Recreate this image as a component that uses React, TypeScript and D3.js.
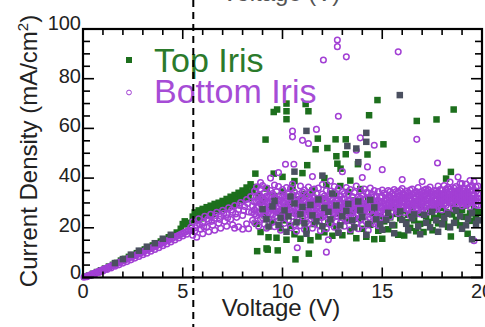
import React from "react";
import * as d3 from "d3";

// Top Iris: [voltage, current density]
const topRise: [number, number][] = [
  [0.1, 0.3], [0.3, 0.8], [0.5, 1.5], [0.7, 2.2], [0.9, 2.9], [1.1, 3.6], [1.3, 4.4], [1.5, 5.1],
  [1.7, 5.9], [1.9, 6.8], [2.1, 7.5], [2.3, 8.3], [2.5, 9.0], [2.7, 9.8], [2.9, 10.6], [3.1, 11.3],
  [3.3, 12.1], [3.5, 12.9], [3.7, 13.6], [3.9, 14.5], [4.1, 15.3], [4.3, 16.2], [4.5, 17.0],
  [4.7, 18.1], [4.9, 19.6], [5.0, 21.5], [5.1, 22.6], [5.2, 21.4], [5.3, 22.0],
];
const topKnee: [number, number][] = [
  [5.5, 24.5], [5.6, 26.2], [5.7, 25.1], [5.8, 27.0], [5.9, 25.8], [6.0, 27.6], [6.1, 26.4],
  [6.2, 28.3], [6.3, 27.1], [6.4, 28.9], [6.5, 27.7], [6.6, 29.6], [6.7, 28.2], [6.8, 30.1],
  [6.9, 29.0], [7.0, 30.8], [7.1, 29.5], [7.2, 31.6], [7.3, 30.4], [7.4, 32.5], [7.5, 31.0],
  [7.6, 33.2], [7.7, 31.8], [7.8, 34.1], [7.9, 32.5], [8.0, 35.0], [8.1, 33.4], [8.2, 36.2],
  [8.3, 34.0], [8.4, 37.5], [8.5, 35.2],
  [5.6, 23.0], [5.9, 23.8], [6.2, 25.0], [6.5, 25.6], [6.8, 26.8], [7.1, 27.6], [7.4, 28.8],
  [7.7, 29.4], [8.0, 31.2], [8.3, 32.0],
];
const topBand: [number, number][] = [
  [8.6, 36.4], [8.7, 21.6], [8.8, 33.0], [8.9, 18.3], [9.0, 30.5], [9.1, 25.0], [9.2, 35.8],
  [9.3, 16.2], [9.4, 28.0], [9.5, 22.4], [9.6, 32.8], [9.7, 16.0], [9.8, 26.5], [9.9, 19.8],
  [10.0, 34.6], [10.1, 23.0], [10.2, 15.2], [10.3, 29.4], [10.4, 20.8], [10.5, 36.2], [10.6, 17.4],
  [10.7, 25.6], [10.8, 31.5], [10.9, 15.6], [11.0, 22.7], [11.1, 33.6], [11.2, 19.0], [11.3, 27.2],
  [11.4, 15.0], [11.5, 35.0], [11.6, 21.5], [11.7, 29.8], [11.8, 16.5], [11.9, 24.4], [12.0, 31.8],
  [12.1, 18.2], [12.2, 37.2], [12.3, 22.0], [12.4, 27.8], [12.5, 16.8], [12.6, 33.2], [12.7, 20.4],
  [12.8, 25.8], [12.9, 36.8], [13.0, 17.0], [13.1, 29.0], [13.2, 22.8], [13.3, 34.4], [13.4, 18.6],
  [13.5, 26.6], [13.6, 31.0], [13.7, 15.8], [13.8, 23.6], [13.9, 35.6], [14.0, 19.6], [14.1, 28.6],
  [14.2, 16.4], [14.3, 32.0], [14.4, 21.2], [14.5, 26.0], [14.6, 15.4], [14.7, 30.2], [14.8, 18.8],
  [14.9, 24.8], [15.0, 15.6], [15.1, 22.6], [15.2, 27.4], [15.3, 19.4], [15.4, 24.2], [15.5, 28.2],
  [15.6, 21.0], [15.7, 25.6], [15.8, 17.2], [15.9, 23.8], [16.0, 27.0], [16.1, 16.9], [16.2, 22.2],
  [16.3, 25.2], [16.4, 20.0], [16.5, 27.8], [16.6, 23.0], [16.7, 18.6], [16.8, 25.8], [16.9, 21.6],
  [17.0, 28.4], [17.07, 18.3], [17.2, 24.6], [17.3, 22.4], [17.4, 26.6], [17.52, 19.0], [17.6, 24.0],
  [17.7, 27.4], [17.8, 21.8], [17.9, 25.0], [18.0, 28.0], [18.1, 22.6], [18.2, 26.2], [18.3, 20.4],
  [18.44, 16.5], [18.5, 25.4], [18.6, 28.6], [18.7, 23.2], [18.8, 26.8], [18.9, 21.0], [19.0, 27.2],
  [19.1, 24.4], [19.2, 29.0], [19.28, 17.6], [19.4, 25.8], [19.5, 22.8], [19.6, 27.6], [19.7, 24.6],
  [19.8, 26.4],
];
const topOutliers: [number, number][] = [
  [8.64, 41.8], [9.15, 55.5], [9.56, 41.8], [9.56, 66.6], [9.73, 67.6], [10.2, 70.0], [10.2, 66.9],
  [10.2, 63.7], [11.16, 69.8], [11.3, 66.9], [11.24, 45.2], [11.77, 55.9], [11.66, 51.6],
  [12.25, 52.1], [12.66, 55.6], [12.7, 48.8], [12.75, 45.8], [12.91, 43.8], [13.17, 55.6],
  [13.17, 49.6], [13.78, 45.6], [14.26, 49.5], [14.34, 65.3], [14.76, 71.4], [15.06, 53.6],
  [16.73, 63.0], [17.72, 63.6], [18.58, 67.6], [18.44, 42.5], [18.2, 39.8], [10.0, 40.5],
  [10.6, 38.8], [11.0, 42.0], [12.1, 40.0], [13.4, 39.0],
  [8.73, 10.6], [9.26, 11.2], [9.76, 10.9], [10.65, 7.3], [11.32, 9.6], [9.2, 11.7],
];

// points where both measurements sit on top of each other (drawn grey)
const overlapPts: [number, number][] = [
  [1.6, 5.8], [2.0, 7.4], [2.4, 9.2], [2.8, 10.8], [3.2, 12.4], [3.6, 13.8], [4.0, 15.6], [4.4, 17.2],
  [9.0, 27.5], [9.3, 20.5], [9.6, 30.8], [9.9, 24.0], [10.2, 18.4], [10.4, 32.6], [10.7, 22.2],
  [11.0, 28.4], [11.2, 17.6], [11.2, 59.0], [11.5, 25.0], [11.8, 31.4], [12.0, 20.6], [12.3, 26.4],
  [12.5, 33.8], [12.8, 18.0], [13.0, 24.6], [13.25, 52.9], [13.3, 29.6], [13.6, 20.2], [13.7, 51.9],
  [13.9, 27.0], [14.2, 58.2], [14.2, 54.6], [14.2, 17.2], [14.4, 31.2], [14.7, 23.4], [15.0, 19.2],
  [15.3, 26.0], [15.6, 17.8], [15.88, 73.4], [16.0, 23.2], [16.3, 19.0], [16.6, 25.4], [16.9, 17.4],
  [17.2, 22.0], [17.5, 26.4], [17.8, 18.4], [18.1, 24.0], [18.4, 20.2], [18.7, 27.0], [19.0, 19.6],
  [19.3, 23.6], [19.5, 15.4], [19.7, 21.6], [12.0, 41.0], [13.8, 46.4], [10.6, 42.6],
  [9.2, 23.4], [9.5, 28.6], [9.8, 21.2], [10.1, 27.0], [10.3, 24.6], [10.6, 29.8], [10.9, 25.4],
  [11.1, 21.8], [11.4, 29.2], [11.7, 22.6], [12.1, 28.0], [12.4, 23.4], [12.7, 29.0], [12.9, 21.0],
  [13.2, 26.8], [13.5, 23.0], [13.8, 30.6], [14.0, 24.4], [14.3, 21.6], [14.6, 28.2], [14.9, 21.4],
  [15.2, 23.2], [15.5, 21.2], [15.9, 26.6], [16.2, 21.6], [16.5, 23.8], [16.8, 20.6], [17.1, 25.2],
  [17.4, 20.2], [17.7, 23.0], [18.0, 21.4], [18.3, 25.6], [18.6, 22.0], [18.9, 24.6], [19.2, 21.0],
  [19.5, 26.0], [19.8, 23.0],
];

// Bottom Iris
const bottomRise: [number, number][] = [
  [0.05, 0.1], [0.15, 0.4], [0.25, 0.7], [0.35, 1.0], [0.45, 1.4], [0.55, 1.7], [0.65, 2.0],
  [0.75, 2.4], [0.85, 2.7], [0.95, 3.0], [1.05, 3.4], [1.15, 3.7], [1.25, 4.1], [1.35, 4.4],
  [1.45, 4.8], [1.55, 5.1], [1.65, 5.5], [1.75, 5.8], [1.85, 6.2], [1.95, 6.5], [2.05, 6.9],
  [2.15, 7.2], [2.25, 7.6], [2.35, 8.0], [2.45, 8.3], [2.55, 8.7], [2.65, 9.0], [2.75, 9.4],
  [2.85, 9.8], [2.95, 10.1], [3.05, 10.5], [3.15, 10.9], [3.25, 11.2], [3.35, 11.6], [3.45, 12.0],
  [3.55, 12.3], [3.65, 12.7], [3.75, 13.1], [3.85, 13.4], [3.95, 13.8], [4.05, 14.2], [4.15, 14.6],
  [4.25, 14.9], [4.35, 15.3], [4.45, 15.7], [4.55, 16.1], [4.65, 16.5], [4.75, 16.8], [4.85, 17.2],
  [4.95, 17.6], [5.05, 18.0], [5.15, 18.4], [5.25, 18.8], [5.35, 19.1],
  [0.2, 0.3], [0.4, 0.9], [0.6, 1.4], [0.8, 2.0], [1.0, 2.6], [1.2, 3.2], [1.4, 3.8], [1.6, 4.5],
  [1.8, 5.1], [2.0, 5.8], [2.2, 6.4], [2.4, 7.1], [2.6, 7.8], [2.8, 8.5], [3.0, 9.2], [3.2, 9.8],
  [3.4, 10.6], [3.6, 11.3], [3.8, 12.0], [4.0, 12.8], [4.2, 13.5], [4.4, 14.3], [4.6, 15.1],
  [4.8, 15.9], [5.0, 16.7], [5.2, 17.4],
];
const bottomKnee: [number, number][] = [
  [5.4, 20.2], [5.5, 17.0], [5.5, 22.4], [5.6, 18.6], [5.7, 21.0], [5.7, 16.2], [5.8, 23.6],
  [5.9, 19.4], [6.0, 22.0], [6.0, 17.6], [6.1, 24.6], [6.2, 20.2], [6.3, 22.8], [6.3, 18.4],
  [6.4, 25.4], [6.5, 21.0], [6.6, 23.8], [6.6, 19.0], [6.7, 26.2], [6.8, 21.8], [6.9, 24.6],
  [6.9, 19.8], [7.0, 27.0], [7.1, 22.6], [7.2, 25.4], [7.2, 20.6], [7.3, 28.0], [7.4, 23.4],
  [7.5, 26.2], [7.5, 21.2], [7.6, 29.0], [7.6, 19.8], [7.7, 24.2], [7.8, 27.4], [7.8, 20.4],
  [7.9, 30.2], [8.0, 25.0], [8.0, 19.4], [8.1, 28.6], [8.2, 31.4], [8.2, 21.6], [8.3, 26.4],
  [8.3, 19.6], [8.4, 32.6], [8.5, 28.8], [8.5, 23.0],
  [5.45, 18.8], [5.65, 20.0], [5.85, 21.2], [6.05, 20.4], [6.25, 23.6], [6.45, 22.6], [6.65, 25.0],
  [6.85, 23.4], [7.05, 25.8], [7.25, 24.0], [7.45, 27.2], [7.65, 25.6], [7.85, 29.0], [8.05, 27.0],
  [8.25, 29.8], [8.45, 26.2],
];
// voltage, then several current readings at that voltage
const bottomBandRows: number[][] = [
  [8.6, 34.8, 27.2, 22.0, 30.4, 25.6], [8.7, 30.6, 25.0, 36.4, 28.2, 32.6], [8.8, 28.4, 33.2, 20.6, 30.8, 26.0],
  [8.9, 35.6, 26.2, 23.4, 29.8, 32.2], [9.0, 31.8, 24.0, 37.0, 28.6, 26.8], [9.1, 29.0, 21.4, 34.2, 31.4, 27.0],
  [9.2, 26.8, 36.0, 19.8, 30.2, 32.8], [9.3, 32.4, 28.0, 23.8, 26.2, 30.0], [9.4, 35.0, 25.6, 30.4, 28.0, 33.0],
  [9.5, 27.4, 22.2, 33.8, 30.6, 25.2], [9.6, 37.2, 29.6, 20.4, 27.0, 32.2], [9.7, 24.8, 31.6, 34.6, 28.4, 26.6],
  [9.8, 28.8, 22.8, 36.6, 31.2, 26.0], [9.9, 33.0, 26.0, 19.0, 29.4, 31.0], [10.0, 30.2, 35.4, 24.4, 27.6, 32.4],
  [10.1, 27.6, 21.8, 32.8, 30.0, 25.4], [10.2, 36.2, 29.2, 25.2, 31.8, 27.0], [10.3, 23.2, 33.6, 30.8, 27.8, 25.6],
  [10.4, 27.0, 20.0, 35.8, 29.6, 32.0], [10.5, 31.2, 24.6, 37.6, 28.0, 33.4], [10.6, 28.2, 34.4, 21.2, 30.6, 25.8],
  [10.7, 25.8, 30.0, 18.6, 32.8, 27.4], [10.8, 33.4, 27.8, 23.0, 30.2, 25.8], [10.9, 36.8, 29.4, 20.8, 26.4, 31.6],
  [11.0, 24.2, 32.0, 26.6, 29.2, 34.4], [11.1, 35.2, 28.6, 19.4, 31.0, 26.2], [11.2, 30.6, 22.4, 33.0, 27.8, 25.4],
  [11.3, 26.4, 36.4, 21.6, 30.2, 32.4], [11.4, 29.8, 24.8, 34.0, 27.2, 31.6], [11.5, 32.6, 19.8, 27.2, 29.6, 24.6],
  [11.6, 23.6, 35.6, 30.0, 27.6, 32.2], [11.7, 28.0, 25.0, 33.8, 30.4, 26.6], [11.8, 36.0, 21.0, 31.0, 28.6, 25.8],
  [11.9, 26.8, 29.6, 18.8, 32.0, 24.2], [12.0, 33.6, 24.2, 37.4, 29.0, 27.4], [12.1, 30.4, 22.6, 27.4, 32.8, 25.2],
  [12.2, 35.0, 19.6, 28.8, 31.2, 26.4], [12.3, 25.4, 32.2, 15.2, 29.4, 27.6], [12.4, 29.0, 34.8, 21.4, 26.6, 31.8],
  [12.5, 23.8, 31.4, 27.0, 29.2, 33.6], [12.6, 36.6, 26.0, 20.2, 30.0, 28.4], [12.7, 30.8, 24.6, 33.2, 27.6, 22.6],
  [12.8, 28.2, 35.8, 18.4, 31.4, 25.6], [12.9, 22.0, 32.8, 26.8, 29.8, 30.6], [13.0, 34.6, 29.8, 24.0, 27.0, 31.6],
  [13.1, 27.6, 20.6, 31.6, 29.4, 33.8], [13.2, 36.2, 25.2, 30.2, 27.8, 23.2], [13.3, 23.0, 33.4, 28.4, 30.8, 26.0],
  [13.4, 31.0, 19.2, 35.4, 28.2, 25.8], [13.5, 26.2, 29.2, 22.6, 32.6, 30.4], [13.6, 34.2, 24.0, 30.6, 27.4, 28.8],
  [13.7, 28.6, 36.8, 21.8, 31.2, 25.0], [13.8, 32.4, 25.8, 19.6, 29.6, 27.8], [13.9, 30.0, 23.4, 34.8, 27.2, 32.0],
  [14.0, 27.0, 33.0, 21.0, 29.8, 25.2], [14.1, 35.6, 29.6, 24.8, 31.6, 27.2], [14.2, 22.4, 31.8, 27.8, 29.4, 34.2],
  [14.3, 34.0, 26.4, 19.0, 30.2, 28.0], [14.4, 29.2, 36.0, 23.6, 31.6, 26.6], [14.5, 31.4, 25.0, 33.6, 28.6, 22.4],
  [14.6, 27.2, 21.6, 35.0, 30.4, 32.6], [14.7, 32.8, 29.0, 24.2, 26.8, 30.8], [14.8, 30.4, 34.6, 20.8, 28.2, 26.0],
  [14.9, 26.6, 32.2, 28.2, 30.6, 24.0], [15.0, 35.2, 23.8, 30.6, 28.4, 32.6], [15.1, 31.0, 27.4, 34.0, 29.6, 25.4],
  [15.2, 29.2, 33.4, 25.6, 31.6, 27.8], [15.3, 35.0, 30.2, 27.8, 32.4, 29.2], [15.4, 28.4, 32.6, 24.4, 30.8, 34.6],
  [15.5, 33.8, 30.0, 26.6, 31.8, 28.6], [15.6, 31.6, 35.4, 28.2, 29.8, 33.2], [15.7, 27.0, 32.0, 29.6, 34.6, 30.4],
  [15.8, 34.4, 25.8, 30.8, 32.6, 28.8], [15.9, 29.8, 33.0, 27.2, 31.2, 35.0], [16.0, 32.2, 28.6, 35.8, 30.6, 33.6],
  [16.1, 30.4, 26.2, 33.6, 31.8, 28.4], [16.2, 34.8, 29.0, 31.4, 32.8, 27.6], [16.3, 27.6, 32.8, 30.0, 34.2, 29.4],
  [16.4, 35.2, 28.8, 25.0, 31.4, 33.0], [16.5, 31.0, 33.6, 27.4, 29.8, 35.6], [16.6, 29.4, 34.0, 26.0, 31.6, 32.2],
  [16.7, 32.4, 28.0, 30.8, 34.6, 29.8], [16.8, 33.8, 27.0, 36.2, 31.2, 29.4], [16.9, 30.2, 32.0, 25.6, 34.4, 28.6],
  [17.0, 34.6, 29.6, 31.8, 33.0, 27.6], [17.1, 28.4, 33.2, 30.6, 35.2, 31.6], [17.2, 35.6, 31.0, 27.0, 33.4, 29.2],
  [17.3, 29.8, 33.8, 26.4, 31.8, 35.4], [17.4, 32.6, 28.2, 36.4, 30.4, 34.0], [17.5, 30.8, 34.2, 27.8, 32.4, 29.0],
  [17.6, 33.0, 29.2, 35.0, 31.2, 27.4], [17.7, 31.4, 27.4, 34.8, 33.2, 29.8], [17.8, 36.8, 30.0, 28.6, 32.6, 34.4],
  [17.9, 32.2, 35.4, 29.4, 31.0, 33.6], [18.0, 30.6, 33.6, 27.2, 35.2, 31.8], [18.1, 34.0, 31.8, 37.0, 29.6, 33.0],
  [18.2, 29.0, 33.0, 35.6, 31.4, 30.0], [18.3, 31.6, 28.0, 36.2, 33.8, 30.6], [18.4, 33.4, 30.4, 38.4, 32.0, 35.6],
  [18.5, 29.8, 35.0, 32.0, 33.6, 30.8], [18.6, 31.2, 34.4, 27.6, 32.8, 36.0], [18.7, 36.6, 30.0, 33.0, 31.8, 34.2],
  [18.8, 32.8, 29.4, 35.2, 31.0, 33.8], [18.9, 30.6, 34.6, 37.8, 32.4, 35.4], [19.0, 33.2, 28.8, 31.4, 35.0, 30.4],
  [19.1, 35.8, 30.8, 32.6, 34.0, 29.6], [19.2, 31.0, 33.8, 37.6, 32.2, 29.4], [19.3, 29.6, 34.2, 31.8, 36.0, 33.0],
  [19.4, 36.4, 32.4, 28.4, 34.6, 30.6], [19.5, 30.4, 35.0, 33.2, 31.8, 37.0], [19.6, 38.6, 31.6, 14.8, 33.6, 30.2],
  [19.7, 32.2, 29.2, 34.6, 31.0, 36.4], [19.8, 33.6, 30.6, 36.8, 32.0, 29.0],
];
const bottomOutliers: [number, number][] = [
  [12.75, 95.6], [12.75, 92.9], [12.05, 87.5], [13.2, 88.8], [15.8, 90.8], [12.8, 64.9], [16.73, 55.6],
  [10.5, 58.9], [10.5, 56.6], [11.0, 55.2], [11.3, 53.9], [11.7, 59.6], [13.9, 56.2], [14.6, 53.2],
  [13.7, 51.2], [10.15, 45.6], [10.57, 45.6], [14.26, 44.5], [15.0, 43.4], [17.77, 46.1],
  [10.74, 12.0], [12.2, 10.2], [9.4, 40.0], [9.8, 42.2], [11.5, 40.6], [12.4, 38.8], [13.0, 42.6],
  [14.0, 40.2], [16.0, 39.4], [17.0, 38.6], [18.8, 40.4], [19.4, 39.0], [8.9, 38.2], [19.0, 37.8],
];

const xTicks = [0, 5, 10, 15, 20];
const yTicks = [0, 20, 40, 60, 80, 100];

const GREEN = "#1d6f1d";
const PURPLE = "#a23fd4";
const GREY = "#4b5060";
const FONT = "'Liberation Sans', Arial, Helvetica, sans-serif";

export default function App() {
  const width = 485;
  const height = 327;
  const x = d3.scaleLinear().domain([0, 20]).range([83, 482]);
  const y = d3.scaleLinear().domain([0, 100]).range([277.5, 29]);
  const [x0, x1] = x.range();
  const [y0, y1] = y.range();

  const topIris = [...topRise, ...topKnee, ...topBand, ...topOutliers];
  const bottomBand: [number, number][] = bottomBandRows.flatMap((r) =>
    r.slice(1).map((j) => [r[0], j] as [number, number])
  );
  const bottomIris = [...bottomRise, ...bottomKnee, ...bottomBand, ...bottomOutliers];

  const xMinor = d3.range(0, 21, 1);
  const yMinor = d3.range(0, 101, 5);
  const dashX = 193.3;
  const sq = 6.5;

  return (
    <svg
      width={width}
      height={height}
      style={{ position: "fixed", left: 0, top: 0, background: "#fff" }}
      fontFamily={FONT}
    >
      <rect width={width} height={height} fill="#fff" />
      {/* axis title of the panel above, cut off */}
      <text x={281} y={1} fontSize={24} textAnchor="middle" fill="#555">
        Voltage (V)
      </text>

      <defs>
        <clipPath id="plotArea">
          <rect x={x0 - 4} y={y1} width={x1 - x0 + 4} height={y0 - y1 + 4} />
        </clipPath>
      </defs>
      <g clipPath="url(#plotArea)">
        {topIris.map((d, i) => (
          <rect key={"t" + i} x={x(d[0]) - sq / 2} y={y(d[1]) - sq / 2} width={sq} height={sq} fill={GREEN} />
        ))}
        {bottomIris.map((d, i) => (
          <circle key={"b" + i} cx={x(d[0])} cy={y(d[1])} r={2.8} fill="none" stroke={PURPLE} strokeWidth={1.5} />
        ))}
        {overlapPts.map((d, i) => (
          <rect key={"o" + i} x={x(d[0]) - sq / 2} y={y(d[1]) - sq / 2} width={sq} height={sq} fill={GREY} />
        ))}
      </g>

      {/* ticks on all four sides, pointing inward */}
      {xMinor.map((v) => {
        const len = v % 5 === 0 ? 10 : 6;
        return (
          <g key={"xt" + v} stroke="#000" strokeWidth={1.6}>
            <line x1={x(v)} x2={x(v)} y1={y0} y2={y0 - len} />
            <line x1={x(v)} x2={x(v)} y1={y1} y2={y1 + len} />
          </g>
        );
      })}
      {yMinor.map((v) => {
        const len = v % 20 === 0 ? 11 : 7;
        return (
          <g key={"yt" + v} stroke="#000" strokeWidth={1.6}>
            <line x1={x0} x2={x0 + len} y1={y(v)} y2={y(v)} />
            <line x1={x1} x2={x1 - len} y1={y(v)} y2={y(v)} />
          </g>
        );
      })}
      <rect x={x0} y={y1} width={x1 - x0} height={y0 - y1} fill="none" stroke="#000" strokeWidth={2.2} />

      {xTicks.map((v) => (
        <text key={"xl" + v} x={x(v)} y={298} fontSize={20} textAnchor="middle" fill="#222">
          {v}
        </text>
      ))}
      {yTicks.map((v) => (
        <text
          key={"yl" + v}
          x={x0 - 2}
          y={v === 0 || v === 100 ? y(v) + 1 : y(v) + 4}
          fontSize={20}
          textAnchor="end"
          fill="#222"
        >
          {v}
        </text>
      ))}

      <text x={281} y={316} fontSize={24} textAnchor="middle" fill="#222">
        Voltage (V)
      </text>
      <text transform="translate(37,151) rotate(-90)" fontSize={24} textAnchor="middle" fill="#222">
        Current Density (mA/cm
        <tspan dy={-9} fontSize={15}>2</tspan>
        <tspan dy={9}>)</tspan>
      </text>

      {/* legend */}
      <rect x={129 - 3} y={60 - 3} width={6} height={6} fill={GREEN} />
      <text x={154} y={72} fontSize={34} fill="#2b7a2b">
        Top Iris
      </text>
      <circle cx={129} cy={92.5} r={2.4} fill="none" stroke={PURPLE} strokeWidth={1} />
      <text x={154} y={103} fontSize={34} fill="#a64cd6">
        Bottom Iris
      </text>

      <line x1={dashX} x2={dashX} y1={0} y2={height} stroke="#000" strokeWidth={2} strokeDasharray="7,5" />
    </svg>
  );
}
